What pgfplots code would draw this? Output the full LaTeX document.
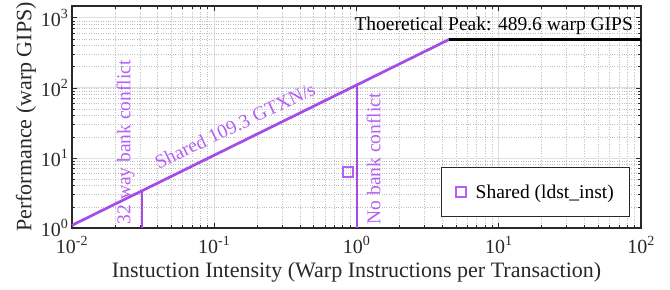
\documentclass[border=0pt]{standalone}
\usepackage{fontspec}
\setmainfont{Liberation Serif}
\usepackage{pgfplots}
\pgfplotsset{compat=1.18}
\usetikzlibrary{calc}
\definecolor{roofp}{RGB}{165,75,232}
\definecolor{txtp}{RGB}{180,95,245}
\definecolor{axgray}{RGB}{40,40,40}
\begin{document}
\begin{tikzpicture}
\begin{axis}[
  scale only axis, width=569pt, height=222pt,
  xmode=log, ymode=log,
  xmin=0.01, xmax=100, ymin=1, ymax=1470,
  xtick={0.01,0.1,1,10,100},
  xticklabels={10\textsuperscript{-2},10\textsuperscript{-1},10\textsuperscript{0},10\textsuperscript{1},10\textsuperscript{2}},
  ytick={1,10,100,1000},
  yticklabels={10\textsuperscript{0},10\textsuperscript{1},10\textsuperscript{2},10\textsuperscript{3}},
  tick label style={font=\fontsize{20}{24}\selectfont, text=axgray},
  xticklabel style={yshift=-5pt},
  tick align=inside, major tick length=5pt, minor tick length=3pt,
  every tick/.style={axgray, line width=0.6pt},
  axis line style={axgray, line width=1.2pt},
  grid=both,
  major grid style={gray!25, line width=0.7pt},
  minor grid style={gray!50, dotted, line width=0.6pt},
  xlabel={Instuction Intensity (Warp Instructions per Transaction)},
  ylabel={Performance (warp GIPS)},
  label style={font=\fontsize{22}{26}\selectfont, text=axgray},
  xlabel style={yshift=-2pt},
  ylabel style={yshift=-2pt},
  legend style={at={(0.981,0.05)}, anchor=south east, draw=axgray, line width=0.7pt,
     font=\fontsize{19.5}{23}\selectfont, inner xsep=14pt, inner ysep=15pt, column sep=8pt},
  legend cell align=left,
  clip=false,
]
\addplot[roofp, line width=2.7pt, forget plot] coordinates {(0.01,1.093) (4.479,489.6)};
\addplot[black, line width=2.7pt, forget plot] coordinates {(4.479,489.6) (100,489.6)};
\addplot[roofp, line width=2pt, forget plot] coordinates {(0.03125,1) (0.03125,3.416)};
\addplot[roofp, line width=2pt, forget plot] coordinates {(1,1) (1,109.3)};
\addplot[only marks, mark=square, mark size=5pt, mark options={draw=txtp, line width=1.9pt, fill=none}] coordinates {(0.87,6.3)};
\addlegendentry{Shared (ldst\_inst)}
\node[text=txtp, rotate=90, anchor=west, inner sep=0pt, font=\fontsize{19.5}{23}\selectfont] at (axis cs:0.0238,1.12) {32 way bank conflict};
\node[text=txtp, rotate=90, anchor=west, inner sep=0pt, font=\fontsize{19.5}{23}\selectfont] at (axis cs:1.32,1.12) {No bank conflict};
\node[text=txtp, rotate=25.5, font=\fontsize{19.5}{23}\selectfont] at (axis cs:0.14,29) {Shared 109.3 GTXN/s};
\node[text=black, anchor=east, inner sep=0pt, font=\fontsize{19.5}{23}\selectfont] at (axis cs:88,770) {Thoeretical Peak: 489.6 warp GIPS};
\end{axis}
\pgfresetboundingbox
\useasboundingbox ($(current axis.south west)+(-72pt,-62pt)$) rectangle ($(current axis.north east)+(29pt,6pt)$);
\end{tikzpicture}
\end{document}
